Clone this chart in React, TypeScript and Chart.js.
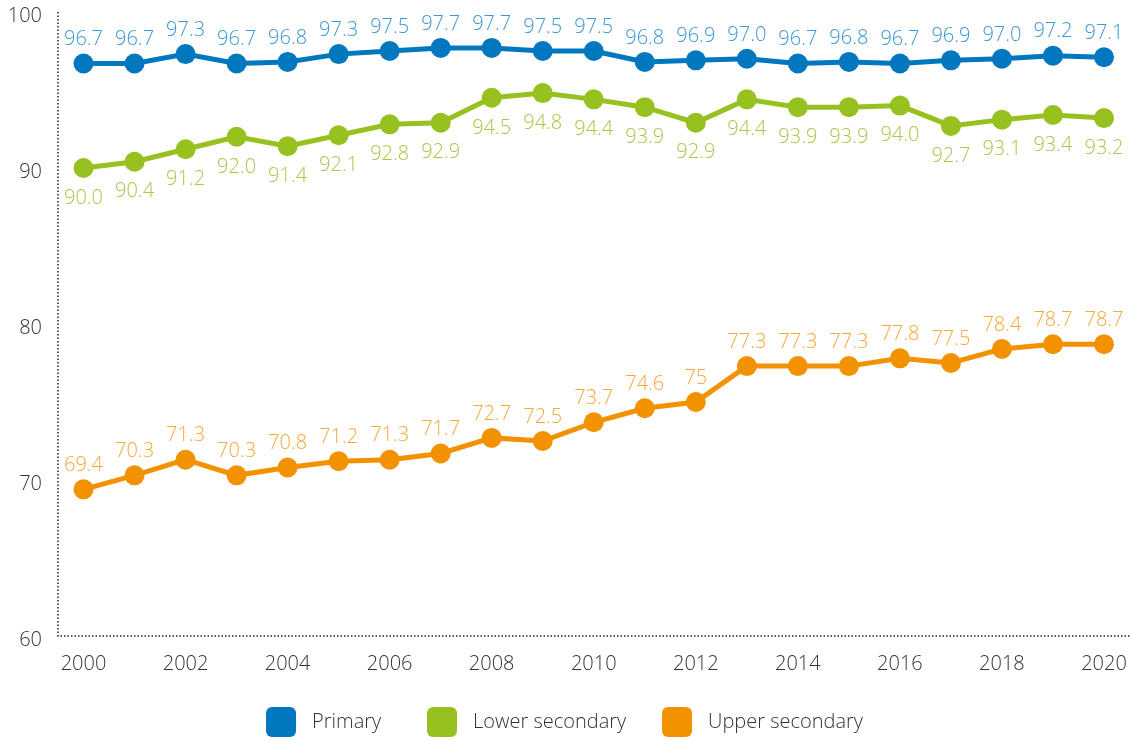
import React, { useEffect, useRef } from "react";
import { Chart, registerables } from "chart.js";

Chart.register(...registerables);

const years = ["2000","2001","2002","2003","2004","2005","2006","2007","2008","2009","2010","2011","2012","2013","2014","2015","2016","2017","2018","2019","2020"];
const primary = [96.7, 96.7, 97.3, 96.7, 96.8, 97.3, 97.5, 97.7, 97.7, 97.5, 97.5, 96.8, 96.9, 97.0, 96.7, 96.8, 96.7, 96.9, 97.0, 97.2, 97.1];
const lowerSecondary = [90.0, 90.4, 91.2, 92.0, 91.4, 92.1, 92.8, 92.9, 94.5, 94.8, 94.4, 93.9, 92.9, 94.4, 93.9, 93.9, 94.0, 92.7, 93.1, 93.4, 93.2];
const upperSecondary = [69.4, 70.3, 71.3, 70.3, 70.8, 71.2, 71.3, 71.7, 72.7, 72.5, 73.7, 74.6, 75, 77.3, 77.3, 77.3, 77.8, 77.5, 78.4, 78.7, 78.7];
const upperLabels = ["69.4","70.3","71.3","70.3","70.8","71.2","71.3","71.7","72.7","72.5","73.7","74.6","75","77.3","77.3","77.3","77.8","77.5","78.4","78.7","78.7"];
const seriesNames = ["Primary", "Lower secondary", "Upper secondary"];
const yTicks = [60, 70, 80, 90, 100];

const FONT = "'Open Sans', 'Noto Sans', sans-serif";
const LEGEND_X = [266, 427, 662];

const dataLabelPlugin = {
  id: "dataLabels",
  afterDatasetsDraw(chart: any) {
    const ctx = chart.ctx;
    chart.data.datasets.forEach((ds: any, i: number) => {
      const meta = chart.getDatasetMeta(i);
      ctx.save();
      ctx.font = `300 20px ${FONT}`;
      ctx.fillStyle = ds.labelColor;
      ctx.textAlign = "center";
      ctx.textBaseline = "middle";
      meta.data.forEach((pt: any, j: number) => {
        const txt = ds.labelTexts ? ds.labelTexts[j] : ds.data[j].toFixed(1);
        const dy = ds.labelBelow ? 30 : -24;
        ctx.fillText(txt, pt.x, pt.y + dy);
      });
      ctx.restore();
    });
  },
};

const axesPlugin = {
  id: "dottedAxes",
  beforeDatasetsDraw(chart: any) {
    const { ctx, chartArea } = chart;
    ctx.save();
    ctx.strokeStyle = "#222";
    ctx.lineWidth = 1.5;
    ctx.setLineDash([1.5, 2]);
    ctx.beginPath();
    ctx.moveTo(chartArea.left, chartArea.top);
    ctx.lineTo(chartArea.left, chartArea.bottom);
    ctx.lineTo(chartArea.right, chartArea.bottom);
    ctx.stroke();
    ctx.restore();
  },
};

const legendPlugin = {
  id: "customLegend",
  afterDraw(chart: any) {
    const ctx = chart.ctx;
    const cy = 722;
    ctx.save();
    chart.data.datasets.forEach((ds: any, i: number) => {
      const x = LEGEND_X[i];
      ctx.fillStyle = ds.borderColor;
      ctx.beginPath();
      (ctx as any).roundRect(x, cy - 15, 30, 30, 6);
      ctx.fill();
      ctx.fillStyle = "#333";
      ctx.font = `300 20px ${FONT}`;
      ctx.textAlign = "left";
      ctx.textBaseline = "middle";
      ctx.fillText(ds.label, x + 46, cy);
    });
    ctx.restore();
  },
};

export default function App() {
  const ref = useRef<HTMLCanvasElement>(null);
  useEffect(() => {
    document.body.style.margin = "0";
    const common = {
      borderWidth: 5,
      pointRadius: 10,
      pointHoverRadius: 10,
      pointBorderWidth: 0,
    };
    const chart = new Chart(ref.current!, {
      type: "line",
      data: {
        labels: years,
        datasets: [
          {
            label: seriesNames[0],
            data: primary,
            borderColor: "#0077bf",
            backgroundColor: "#0077bf",
            ...common,
            labelColor: "#3a98d8",
            labelBelow: false,
          } as any,
          {
            label: seriesNames[1],
            data: lowerSecondary,
            borderColor: "#96c11f",
            backgroundColor: "#96c11f",
            ...common,
            labelColor: "#a6c94a",
            labelBelow: true,
          } as any,
          {
            label: seriesNames[2],
            data: upperSecondary,
            borderColor: "#f39200",
            backgroundColor: "#f39200",
            ...common,
            labelColor: "#f5a93a",
            labelBelow: false,
            labelTexts: upperLabels,
          } as any,
        ],
      },
      options: {
        animation: false,
        responsive: false,
        maintainAspectRatio: false,
        layout: { autoPadding: false, padding: { top: 12, right: 1.5, bottom: 54, left: 0 } } as any,
        plugins: {
          tooltip: { enabled: false },
          legend: { display: false },
        },
        scales: {
          x: {
            offset: true,
            grid: { display: false, drawTicks: false },
            border: { display: false },
            ticks: {
              autoSkip: false,
              maxRotation: 0,
              padding: 16,
              color: "#333",
              font: { family: FONT, size: 20, weight: "300" as any },
              callback: (_v: any, i: number) => (i % 2 === 0 ? years[i] : ""),
            },
            afterFit: (s: any) => {
              s.height = 50;
              s.paddingLeft = 0;
              s.paddingRight = 0;
            },
          },
          y: {
            min: 60,
            max: 100,
            afterBuildTicks: (s: any) => { s.ticks = yTicks.map((v) => ({ value: v })); },
            grid: { display: false, drawTicks: false },
            border: { display: false },
            ticks: {
              padding: 16,
              labelOffset: 4,
              color: "#333",
              font: { family: FONT, size: 20, weight: "300" as any },
            },
            afterFit: (s: any) => {
              s.width = 58;
              s.paddingTop = 0;
              s.paddingBottom = 0;
            },
          },
        },
      },
      plugins: [axesPlugin, dataLabelPlugin, legendPlugin],
    });
    return () => chart.destroy();
  }, []);
  return (
    <div style={{ width: 1131, height: 740 }}>
      <canvas ref={ref} width={1131} height={740} style={{ width: 1131, height: 740, display: "block" }} />
    </div>
  );
}
